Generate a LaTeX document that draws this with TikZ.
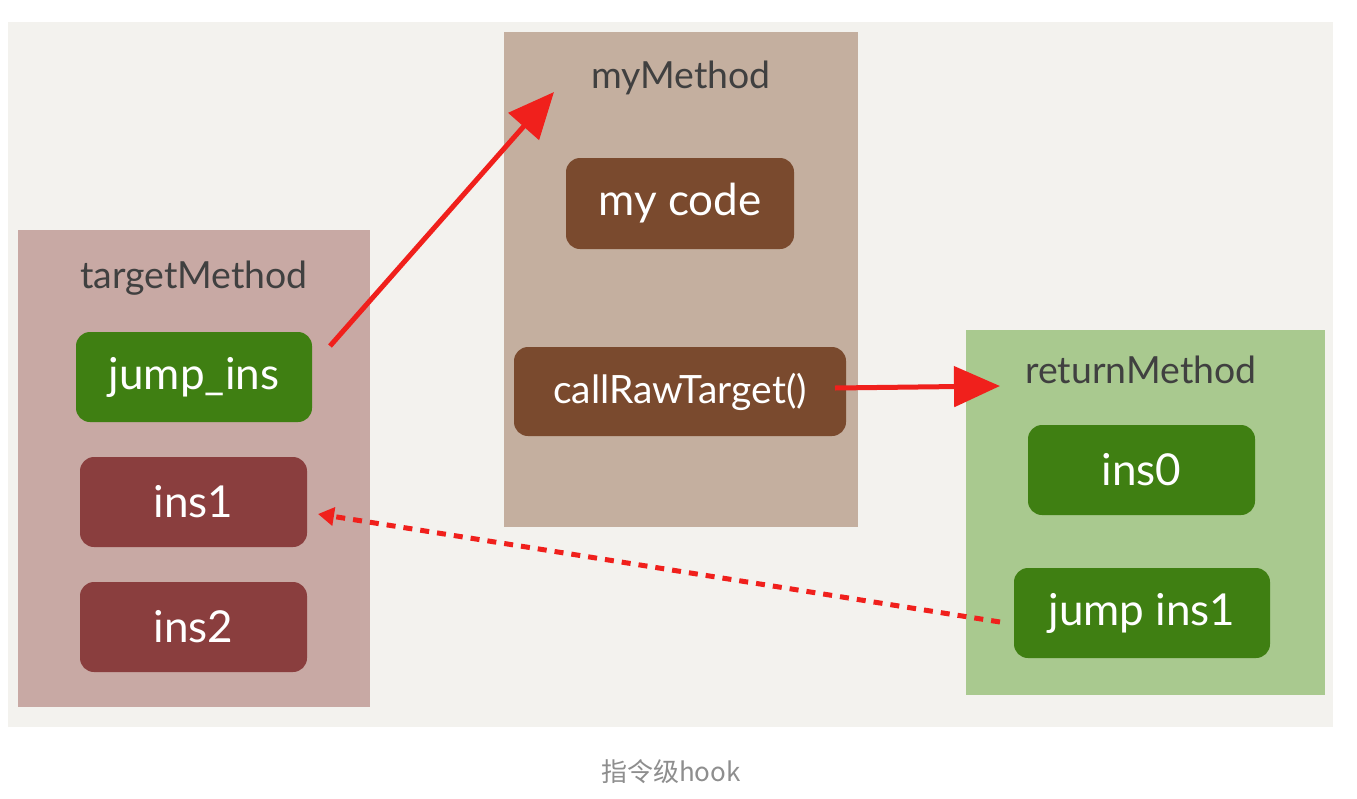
\documentclass[tikz,border=0pt]{standalone}
\usepackage{fontspec}
\setmainfont{Lato}
\newfontfamily\cjk{Noto Sans CJK SC}
\usetikzlibrary{arrows.meta}
\definecolor{bgpanel}{HTML}{F3F2EE}
\definecolor{tgtpanel}{HTML}{C8A9A4}
\definecolor{mypanel}{HTML}{C4AF9F}
\definecolor{retpanel}{HTML}{A9C98F}
\definecolor{greenbox}{HTML}{3F7F12}
\definecolor{redbox}{HTML}{8A3E3E}
\definecolor{brownbox}{HTML}{7A4A2E}
\definecolor{titlegray}{HTML}{404040}
\definecolor{arrowred}{HTML}{F0201C}
\definecolor{capgray}{HTML}{8E8E8E}
\tikzset{
  panel/.style={draw=none, inner sep=0pt},
  ptitle/.style={text=titlegray, font=\fontsize{18.7}{22}\selectfont},
  ibox/.style={rounded corners=7pt, text=white, font=\fontsize{22}{26}\selectfont},
  bigarrow/.style={draw=arrowred, line width=2.5pt, -{Triangle[length=23pt,width=20pt]}},
  dasharrow/.style={draw=arrowred, line width=2.5pt, dash pattern=on 4.5pt off 4pt, -{Triangle[length=8pt,width=9pt]}},
}
\begin{document}
\begin{tikzpicture}[x=0.5pt,y=-0.5pt]
\useasboundingbox (0,0) rectangle (1357,799);
\fill[white] (0,0) rectangle (1357,799);
\fill[bgpanel] (8,22) rectangle (1333,727);
% panels
\fill[tgtpanel] (18,230) rectangle (370,707);
\fill[mypanel] (504,32) rectangle (858,527);
\fill[retpanel] (966,330) rectangle (1325,695);
% titles
\node[ptitle] (t1) at (194,278) {targetMethod};
\node[ptitle] (t2) at (681,78) {myMethod};
\node[ptitle] (t3) at (1141,370) {returnMethod};
% boxes
\fill[greenbox, rounded corners=7pt] (76,332) rectangle (312,422);
\node[ibox] (jump) at (194,377) {jump\_ins};
\fill[redbox, rounded corners=7pt] (80,457) rectangle (307,547);
\node[ibox] (ins1) at (193.5,502) {ins1};
\fill[redbox, rounded corners=7pt] (80,582) rectangle (307,672);
\node[ibox] (ins2) at (193.5,627) {ins2};
\fill[brownbox, rounded corners=7pt] (566,158) rectangle (794,249);
\node[ibox] (code) at (680,203.5) {my code};
\fill[brownbox, rounded corners=7pt] (514,347) rectangle (846,436);
\node[ibox, font=\fontsize{19.5}{23}\selectfont] (call) at (680,391.5) {callRawTarget()};
\fill[greenbox, rounded corners=7pt] (1028,425) rectangle (1255,515);
\node[ibox] (ins0) at (1141.5,470) {ins0};
\fill[greenbox, rounded corners=7pt] (1014,568) rectangle (1270,658);
\node[ibox] (jins1) at (1142,613) {jump ins1};
% connectors
\coordinate (a1s) at (330,346);
\coordinate (a1e) at (554,92);
\draw[bigarrow] (a1s) -- (a1e);
\coordinate (a2s) at (835,388);
\coordinate (a2e) at (1000,386);
\draw[bigarrow] (a2s) -- (a2e);
\coordinate (a3s) at (1000,622);
\coordinate (a3e) at (318,514);
\draw[dasharrow] (a3s) -- (a3e);
% caption
\node[text=capgray, font=\cjk\fontsize{13}{16}\selectfont] (cap) at (671,772) {指令级hook};
\end{tikzpicture}
\end{document}
